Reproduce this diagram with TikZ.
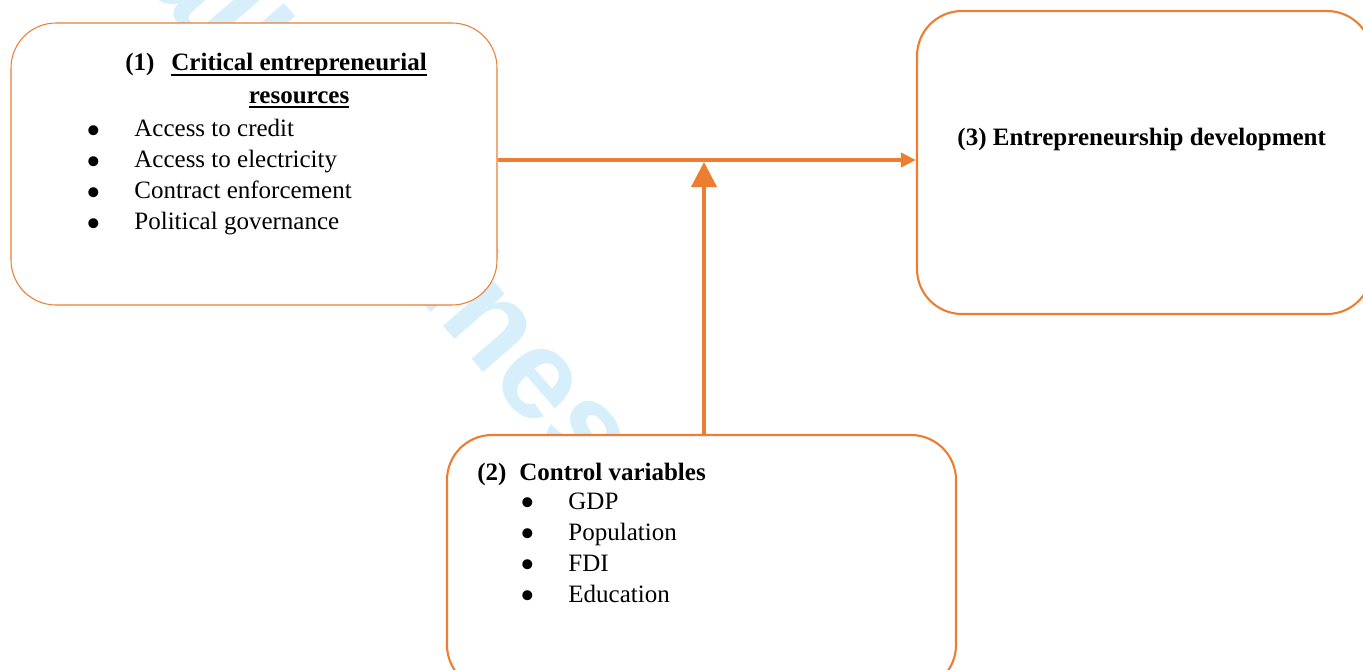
\documentclass[tikz,border=0pt]{standalone}
\usepackage{fontspec}
\setmainfont{Liberation Serif}
\newfontfamily\markfont{Liberation Sans}
\usetikzlibrary{arrows.meta}
\definecolor{accent}{HTML}{ED7D31}
\definecolor{wmcyan}{RGB}{214,239,251}
% underline drawn a little below the baseline, crossing descenders
\newcommand\ulbar[1]{\setbox0=\hbox{#1}\rlap{\rule[-2.4pt]{\wd0}{0.9pt}}\box0}

\begin{document}
\begin{tikzpicture}[x=0.48pt,y=-0.48pt,
  card/.style={draw=accent, fill=white, rounded corners=21.6pt, inner sep=0pt},
  thincard/.style={card, line width=0.5pt},
  thickcard/.style={card, line width=1pt},
  lbl/.style={inner sep=0pt, anchor=base west, font=\fontsize{12pt}{14.9pt}\selectfont},
  head/.style={lbl, font=\fontsize{12pt}{14.9pt}\selectfont\bfseries},
  dot/.style={inner sep=0pt, anchor=base, font=\fontsize{20pt}{20pt}\selectfont},
  link/.style={draw=accent, line width=1.9pt},
]
\clip (0,0) rectangle (1363,669);

% background watermark
\node[rotate=-49, anchor=base west, inner sep=0pt, text=wmcyan,
      font=\markfont\fontsize{61.4pt}{61.4pt}\selectfont\bfseries] (wm) at (8,-174) {Small Business};

% the three boxes
\node[thincard, minimum width=486*0.48pt, minimum height=282*0.48pt] (res) at (254,164) {};
\node[thickcard, minimum width=455*0.48pt, minimum height=303*0.48pt] (dev) at (1144.5,162.5) {};
\node[thickcard, minimum width=509*0.48pt, minimum height=255*0.48pt] (ctrl) at (701.5,562.5) {};

% connectors
\coordinate (axis) at (707,160);
\draw[link, -{Triangle[length=7.2pt,width=6.7pt]}] (res.east |- axis) -- (dev.west |- axis);
\coordinate (meet) at (704,162);
\draw[link, -{Triangle[length=12pt,width=12pt]}] (ctrl.north -| meet) -- (meet);

% box (1)
\node[head] (num1) at (125,70.5) {(1)};
\node[head] (title1) at (171,70.5) {\ulbar{Critical entrepreneurial}};
\node[head, anchor=base] (title1b) at (299,103) {\ulbar{resources}};
\foreach \t [count=\i] in {Access to credit, Access to electricity, Contract enforcement, Political governance}{
  \node[dot] (rdot\i) at (93.5,{144.3+31*(\i-1)}) {•};
  \node[lbl] (ritem\i) at (134,{136.8+31*(\i-1)}) {\t};
}

% box (2)
\node[head] (num2) at (477,480) {(2)};
\node[head] (title2) at (519,480) {Control variables};
\foreach \t [count=\i] in {GDP, Population, FDI, Education}{
  \node[dot] (cdot\i) at (528,{516.5+31*(\i-1)}) {•};
  \node[lbl] (citem\i) at (568,{509+31*(\i-1)}) {\t};
}

% box (3)
\node[head] (title3) at (957,145.7) {(3) Entrepreneurship development};
\end{tikzpicture}
\end{document}
